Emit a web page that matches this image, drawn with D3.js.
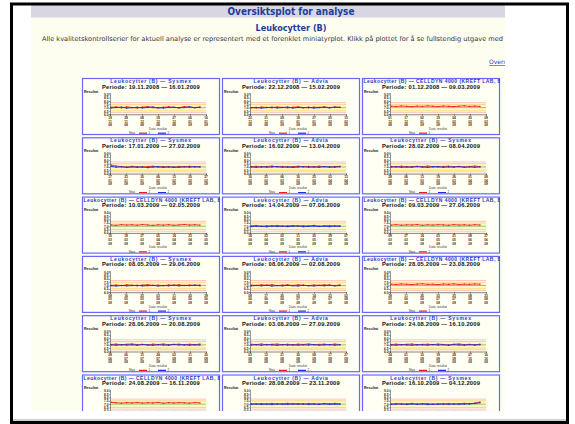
<!DOCTYPE html>
<html><head><meta charset="utf-8">
<script src="https://cdn.jsdelivr.net/npm/d3@7"></script>
<style>body{margin:0;background:#fff}svg{display:block}</style>
</head><body>
<svg id="c" width="575" height="424"></svg>
<script>
// Control series shown as miniature Levey-Jennings plots
const instruments = [
  "Sysmex", "Advia", "CELLDYN 4000 (KREFT LAB, BERGEN)",
  "Sysmex", "Advia", "Sysmex",
  "CELLDYN 4000 (KREFT LAB, BERGEN)", "Advia", "CELLDYN 4000 (KREFT LAB, BERGEN)",
  "Sysmex", "Advia", "CELLDYN 4000 (KREFT LAB, BERGEN)",
  "Sysmex", "Advia", "Sysmex",
  "CELLDYN 4000 (KREFT LAB, BERGEN)", "Advia", "Sysmex"
];
const periodStart = [
  "19.11.2008", "22.12.2008", "01.12.2008",
  "17.01.2009", "16.02.2009", "28.02.2009",
  "10.03.2009", "14.04.2009", "09.03.2009",
  "08.05.2009", "08.06.2009", "28.05.2009",
  "28.06.2009", "03.08.2009", "24.08.2009",
  "24.08.2009", "28.08.2009", "16.10.2009"
];
const periodEnd = [
  "16.01.2009", "15.02.2009", "09.03.2009",
  "27.02.2009", "13.04.2009", "08.04.2009",
  "02.05.2009", "07.06.2009", "27.06.2009",
  "29.06.2009", "02.08.2009", "23.08.2009",
  "20.08.2009", "27.09.2009", "16.10.2009",
  "16.11.2009", "23.11.2009", "04.12.2009"
];
const redValues = [
  [7.05,7.10,6.98,7.12,7.02,6.95,7.08,7.15,7.00,6.97,7.06,7.11,7.03,6.99,7.14,7.07,7.01,7.09],
  [7.02,6.96,7.08,7.04,6.99,7.10,7.03,6.97,7.06,7.12,7.01,6.98,7.07,7.04,7.11,7.02,7.08,7.05],
  [7.22,7.18,7.25,7.20,7.15,7.23,7.19,7.26,7.21,7.17,7.24,7.20,7.16,7.22,7.27,7.19,7.23,7.18],
  [7.30,7.12,7.05,6.98,7.08,7.02,6.95,7.04,7.10,6.99,7.06,7.01,6.96,7.07,7.03,7.09,7.00,7.05],
  [7.04,7.09,6.99,7.06,7.12,7.01,7.07,6.97,7.05,7.10,7.02,7.08,7.00,7.11,7.04,6.98,7.06,7.09],
  [7.08,7.02,7.11,6.98,7.05,7.09,7.01,7.13,7.04,6.99,7.07,7.10,7.03,7.08,6.97,7.06,7.12,7.04],
  [7.20,7.14,7.24,7.18,7.22,7.16,7.25,7.19,7.13,7.21,7.17,7.23,7.15,7.20,7.26,7.18,7.22,7.17],
  [7.06,7.11,7.01,7.08,7.03,7.12,7.00,7.07,7.10,7.02,7.09,7.04,7.13,7.01,7.06,7.10,7.03,7.08],
  [7.18,7.24,7.16,7.21,7.19,7.25,7.14,7.22,7.17,7.23,7.20,7.15,7.24,7.18,7.21,7.16,7.23,7.19],
  [7.03,7.08,6.99,7.10,7.05,6.97,7.07,7.12,7.01,7.06,6.98,7.09,7.04,7.11,7.00,7.07,7.02,7.08],
  [7.07,7.02,7.10,7.04,7.12,6.99,7.06,7.09,7.01,7.11,7.05,6.98,7.08,7.03,7.10,7.06,7.00,7.09],
  [7.21,7.17,7.24,7.19,7.15,7.22,7.26,7.18,7.20,7.14,7.23,7.19,7.25,7.16,7.21,7.18,7.24,7.20],
  [7.05,7.11,7.00,7.08,7.13,7.02,7.07,6.98,7.10,7.04,7.12,7.01,7.06,7.09,6.99,7.08,7.03,7.11],
  [7.09,7.03,7.12,7.00,7.07,7.11,7.02,7.08,6.97,7.10,7.05,7.13,7.01,7.06,7.09,7.02,7.11,7.04],
  [7.04,7.10,7.01,7.07,7.12,6.99,7.06,7.09,7.02,7.11,7.05,6.98,7.08,7.13,7.03,7.07,7.00,7.09],
  [7.28,7.20,7.15,7.22,7.18,7.24,7.16,7.21,7.19,7.25,7.14,7.22,7.17,7.23,7.20,7.15,7.24,7.18],
  [7.06,7.01,7.09,7.04,7.11,7.00,7.07,7.12,7.03,7.08,6.99,7.10,7.05,7.02,7.09,7.06,7.11,7.03],
  [7.02,7.08,6.99,7.06,7.11,7.01,7.05,7.09,6.98,7.07,7.03,7.10,7.00,7.06,7.12,7.04,7.15,7.30]
];
const blueValues = [
  [6.95,7.02,7.08,6.93,7.00,7.06,6.96,7.03,7.10,6.98,6.94,7.04,7.07,6.97,7.02,7.12,6.99,7.05],
  [6.98,7.04,6.93,7.01,7.07,6.96,7.02,7.09,6.95,7.03,6.99,7.06,6.94,7.00,7.05,6.97,7.08,7.03],
  [],
  [7.10,6.97,7.02,6.92,7.00,6.95,7.03,6.90,6.98,7.04,6.93,7.01,6.97,6.94,7.02,6.96,7.05,6.99],
  [6.99,6.94,7.03,6.97,7.00,7.06,6.95,7.02,6.92,6.99,7.04,6.96,7.01,6.94,7.05,7.00,6.97,7.03],
  [6.97,7.03,6.94,7.01,6.96,7.05,6.99,6.93,7.02,7.06,6.95,7.00,6.98,7.04,6.96,7.01,6.94,7.02],
  [],
  [6.94,7.00,6.97,6.92,7.03,6.96,7.01,6.95,6.99,7.04,6.93,6.98,7.02,6.96,7.00,6.94,7.03,6.97],
  [],
  [6.98,6.93,7.02,6.96,7.00,7.04,6.95,6.99,7.03,6.94,7.01,6.97,7.05,6.96,7.02,6.99,7.06,6.98],
  [6.95,7.01,6.97,7.04,6.93,7.00,6.96,7.02,6.98,6.94,7.03,6.99,6.95,7.01,6.97,7.04,6.96,7.00],
  [],
  [6.99,6.94,7.03,6.97,7.01,6.95,7.04,7.00,6.93,7.02,6.98,6.96,7.05,6.99,7.02,6.95,7.00,6.97],
  [6.96,7.02,6.94,7.05,6.99,6.93,7.03,6.97,7.01,6.95,7.00,6.98,7.04,6.96,6.99,7.03,6.95,7.01],
  [6.98,6.95,7.03,6.99,6.94,7.02,7.00,6.96,7.04,6.97,7.01,6.95,7.03,6.98,6.96,7.02,6.99,7.01],
  [],
  [6.97,7.03,6.95,7.00,6.94,7.04,6.98,6.96,7.02,6.99,7.05,6.95,7.01,6.97,7.03,6.96,7.00,6.98],
  [6.96,7.00,7.04,6.95,7.01,6.98,7.03,6.94,7.00,6.97,7.02,6.96,7.04,6.99,7.01,7.05,7.10,7.22]
];
const controlMean = 7.0;
const controlSD = 0.25;
const yDomain = [6.0, 9.2];
const yTicks = [6.0, 6.5, 7.0, 7.5, 8.0, 8.5, 9.0];
const xTickCount = 7;

const parse = d3.timeParse("%d.%m.%Y");
const svg = d3.select("#c");

// page content area
const pageL = 31, pageR = 505, pageT = 5, pageB = 411;
svg.append("defs").append("clipPath").attr("id", "pageClip")
  .append("rect").attr("x", pageL).attr("y", pageT).attr("width", pageR - pageL).attr("height", pageB - pageT);
svg.append("rect").attr("x", pageL).attr("y", pageT).attr("width", pageR - pageL).attr("height", pageB - pageT).attr("fill", "#fefef0");
const page = svg.append("g").attr("clip-path", "url(#pageClip)");

page.append("rect").attr("x", pageL).attr("y", pageT).attr("width", pageR - pageL).attr("height", 12.5).attr("fill", "#d7d7e3");
page.append("text").attr("x", 291).attr("y", 15).attr("text-anchor", "middle")
  .attr("font-family", "DejaVu Sans").attr("font-weight", "bold").attr("font-size", 11)
  .attr("textLength", 127).attr("lengthAdjust", "spacingAndGlyphs")
  .attr("fill", "#1d3c9c").text("Oversiktsplot for analyse");
page.append("text").attr("x", 291).attr("y", 31).attr("text-anchor", "middle")
  .attr("font-family", "DejaVu Sans").attr("font-weight", "bold").attr("font-size", 9.5)
  .attr("textLength", 71).attr("lengthAdjust", "spacingAndGlyphs")
  .attr("fill", "#1d3c9c").text("Leukocytter (B)");
page.append("text").attr("x", 42).attr("y", 41)
  .attr("font-family", "DejaVu Sans").attr("font-size", 6.6)
  .attr("textLength", 461).attr("lengthAdjust", "spacingAndGlyphs")
  .attr("fill", "#333").text("Alle kvalitetskontrollserier for aktuell analyse er representert med et forenklet miniatyrplot. Klikk på plottet for å se fullstendig utgave med");
page.append("text").attr("x", 489).attr("y", 64)
  .attr("font-family", "DejaVu Sans").attr("font-size", 6)
  .attr("text-decoration", "underline").attr("fill", "#3333cc").text("Oversikt");

// grid of miniature plots
const colX = [82, 222, 362];
const rowY0 = 78, rowPitch = 59.3;
const boxW = 138, boxH = 57;
const plotL = 28, plotR = 124, plotT = 15, plotB = 36.3;

instruments.forEach((inst, i) => {
  const bx = colX[i % 3], by = rowY0 + Math.floor(i / 3) * rowPitch;
  const g = page.append("g").attr("transform", `translate(${bx},${by})`);
  const cid = "box" + i;
  g.append("clipPath").attr("id", cid).append("rect").attr("width", boxW).attr("height", boxH);
  g.append("rect").attr("x", 0.5).attr("y", 0.5).attr("width", boxW - 1).attr("height", boxH - 1)
    .attr("fill", "#fffff4").attr("stroke", "#6868ff").attr("stroke-width", 1.2);
  const inner = g.append("g").attr("clip-path", `url(#${cid})`);

  const isCell = inst.startsWith("CELLDYN");
  inner.append("text").attr("x", isCell ? 1.5 : boxW / 2).attr("y", 5.2)
    .attr("text-anchor", isCell ? "start" : "middle")
    .attr("font-family", "Liberation Sans").attr("font-weight", "bold").attr("font-size", 5)
    .attr("letter-spacing", isCell ? 0.45 : 0.75).attr("fill", "#2a3cc0")
    .text(`Leukocytter (B)  —  ${inst}`);
  inner.append("text").attr("x", boxW / 2).attr("y", 10.6).attr("text-anchor", "middle")
    .attr("font-family", "Liberation Sans").attr("font-weight", "bold").attr("font-size", 5.8)
    .attr("letter-spacing", 0.2).attr("fill", "#111")
    .text(`Periode:  ${periodStart[i]}  —  ${periodEnd[i]}`);
  inner.append("text").attr("x", 2).attr("y", 14.6)
    .attr("font-family", "Liberation Sans").attr("font-weight", "bold").attr("font-size", 3.6)
    .attr("fill", "#222").text("Resultat");

  const t0 = parse(periodStart[i]), t1 = parse(periodEnd[i]);
  const x = d3.scaleTime().domain([t0, t1]).range([plotL, plotR]);
  const y = d3.scaleLinear().domain(yDomain).range([plotB, plotT]);

  // control limits
  const lim = k => y(controlMean + k * controlSD);
  inner.append("rect").attr("x", plotL).attr("width", plotR - plotL)
    .attr("y", lim(2)).attr("height", lim(-2) - lim(2)).attr("fill", "#fff6c4");
  [[3, "#ffb4b4", 0.8], [-3, "#ffb4b4", 0.8], [2, "#f7c35a", 0.7], [-2, "#f0d040", 0.7], [0, "#3fae3f", 0.6]]
    .forEach(([k, c, w]) => inner.append("line").attr("x1", plotL).attr("x2", plotR)
      .attr("y1", lim(k)).attr("y2", lim(k)).attr("stroke", c).attr("stroke-width", w));

  // axes
  const yAxis = d3.axisLeft(y).tickValues(yTicks).tickSize(1.2).tickFormat(d3.format(".1f"));
  const ya = inner.append("g").attr("transform", `translate(${plotL},0)`).call(yAxis);
  ya.selectAll("text").attr("font-size", 3.2).attr("font-family", "Liberation Sans").attr("font-weight", "bold").attr("x", -1.5).attr("fill", "#222");
  ya.selectAll("path,line").attr("stroke", "#333").attr("stroke-width", 0.5);

  const span = t1 - t0;
  const ticks = d3.range(xTickCount).map(k => new Date(+t0 + span * k / (xTickCount - 1)));
  const xAxis = d3.axisBottom(x).tickValues(ticks).tickSize(1.5).tickFormat(() => "");
  const xa = inner.append("g").attr("transform", `translate(0,${plotB})`).call(xAxis);
  xa.selectAll("path,line").attr("stroke", "#333").attr("stroke-width", 0.6);
  const fmts = [d3.timeFormat("%d"), d3.timeFormat("%m"), d3.timeFormat("%y")];
  ticks.forEach(t => fmts.forEach((f, r) => inner.append("text")
    .attr("x", x(t)).attr("y", plotB + 4.6 + r * 3.6).attr("text-anchor", "middle")
    .attr("font-family", "Liberation Sans").attr("font-weight", "bold").attr("font-size", 3.3)
    .attr("fill", "#333").text(f(t))));

  inner.append("text").attr("x", 76).attr("y", plotB + 15.6).attr("text-anchor", "middle")
    .attr("font-family", "Liberation Sans").attr("font-size", 3).attr("fill", "#333").text("Dato, resultat");

  // series
  const drawSeries = (vals, color) => {
    if (!vals.length) return;
    const xi = d3.scaleLinear().domain([0, vals.length - 1]).range([plotL + 1, plotR - 6]);
    inner.append("path").datum(vals)
      .attr("d", d3.line().x((d, j) => xi(j)).y(d => y(d)))
      .attr("fill", "none").attr("stroke", color).attr("stroke-width", 0.9);
    inner.selectAll(null).data(vals).join("rect")
      .attr("x", (d, j) => xi(j) - 0.6).attr("y", d => y(d) - 0.6)
      .attr("width", 1.2).attr("height", 1.2).attr("fill", color);
  };
  drawSeries(redValues[i], "#ee1c1c");
  drawSeries(blueValues[i], "#1f2fe8");

  // legend
  const ly = plotB + 18.9;
  inner.append("text").attr("x", 47).attr("y", ly + 1).attr("font-family", "Liberation Sans")
    .attr("font-size", 3).attr("fill", "#333").text("Nivå");
  const items = blueValues[i].length ? [["#ee1c1c", "1"], ["#1f2fe8", "2"]] : [["#ee1c1c", "1"]];
  items.forEach(([c, lab], k) => {
    const lx = 57 + k * 19;
    inner.append("line").attr("x1", lx).attr("x2", lx + 8).attr("y1", ly).attr("y2", ly)
      .attr("stroke", c).attr("stroke-width", 1.2);
    inner.append("text").attr("x", lx + 9.5).attr("y", ly + 1).attr("font-family", "Liberation Sans")
      .attr("font-size", 3).attr("fill", "#333").text(lab);
  });
});

// window frame
svg.append("line").attr("x1", 13).attr("x2", 566).attr("y1", 420).attr("y2", 420).attr("stroke", "#a0a0a0").attr("stroke-width", 1);
svg.append("rect").attr("x", 11.5).attr("y", 4).attr("width", 556).attr("height", 418.5)
  .attr("fill", "none").attr("stroke", "#000").attr("stroke-width", 3);
</script>
</body></html>
